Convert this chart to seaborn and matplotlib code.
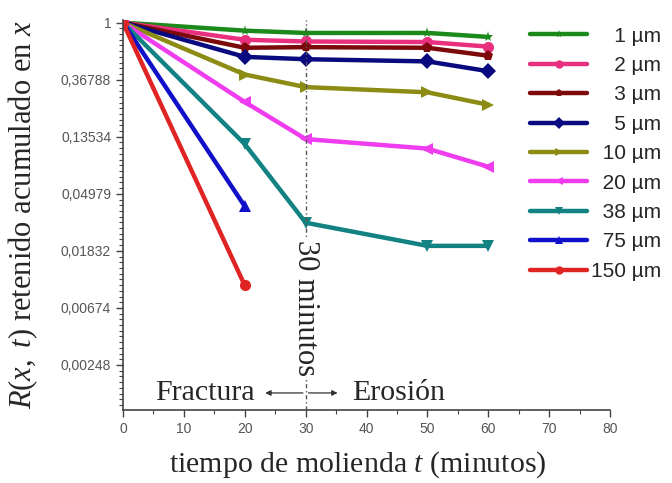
import matplotlib
matplotlib.use("Agg")
import matplotlib.pyplot as plt
import numpy as np
import pandas as pd
import seaborn as sns
from matplotlib.ticker import FixedLocator, FixedFormatter, MultipleLocator

# Data (R(x, t) vs grinding time)
sizes = ["1 µm", "2 µm", "3 µm", "5 µm", "10 µm", "20 µm", "38 µm", "75 µm", "150 µm"]
t_full = [0, 20, 30, 50, 60]
t_short = [0, 20]
r_1 = [1.0, 0.869, 0.835, 0.835, 0.779]
r_2 = [1.0, 0.741, 0.719, 0.712, 0.657]
r_3 = [1.0, 0.644, 0.651, 0.644, 0.560]
r_5 = [1.0, 0.549, 0.527, 0.507, 0.427]
r_10 = [1.0, 0.403, 0.323, 0.295, 0.237]
r_20 = [1.0, 0.249, 0.130, 0.110, 0.080]
r_38 = [1.0, 0.119, 0.030, 0.020, 0.020]
r_75 = [1.0, 0.040]
r_150 = [1.0, 0.010]

colors = ["#1b8a1b", "#e8307f", "#7c0a0a", "#0a0a80", "#8c8c14",
          "#ee3cee", "#128282", "#1010c8", "#e02424"]
markers = ["*", "o", "p", "D", ">", "<", "v", "^", "o"]

ytick_vals = [1, 0.36788, 0.13534, 0.04979, 0.01832, 0.00674, 0.00248]
ytick_labels = ["1", "0,36788", "0,13534", "0,04979", "0,01832",
                "0,00674", "0,00248"]

series = [r_1, r_2, r_3, r_5, r_10, r_20, r_38, r_75, r_150]
rows = []
for name, vals in zip(sizes, series):
    ts = t_full if len(vals) == len(t_full) else t_short
    for t, r in zip(ts, vals):
        rows.append({"t": t, "R": r, "size": name})
df = pd.DataFrame(rows)

sns.set_style("ticks")
plt.rcParams["font.family"] = ["Liberation Sans", "DejaVu Sans"]
plt.rcParams["mathtext.fontset"] = "custom"
plt.rcParams["mathtext.rm"] = "Liberation Serif"
plt.rcParams["mathtext.it"] = "Liberation Serif:italic"

fig = plt.figure(figsize=(6.72, 4.83), dpi=100)
ax = fig.add_axes([0.183, 0.151, 0.725, 0.808])

sns.lineplot(
    data=df, x="t", y="R", hue="size", style="size",
    hue_order=sizes, style_order=sizes,
    palette=dict(zip(sizes, colors)), markers=dict(zip(sizes, markers)),
    dashes=False, linewidth=3.2, markersize=8, markeredgewidth=0,
    ax=ax, legend=True,
)

ax.set_yscale("log", base=np.e)
ax.set_xlim(0, 80)
ax.set_ylim(np.exp(-6.79), np.exp(0.05))

ax.yaxis.set_major_locator(FixedLocator(ytick_vals))
ax.yaxis.set_major_formatter(FixedFormatter(ytick_labels))
ax.yaxis.set_minor_locator(FixedLocator(np.exp(-np.arange(0, 68) / 10)))
ax.yaxis.set_minor_formatter(FixedFormatter([]))
ax.xaxis.set_major_locator(MultipleLocator(10))
ax.xaxis.set_minor_locator(MultipleLocator(5))

ax.tick_params(which="major", length=5, width=1, colors="#444444",
               labelsize=10, labelcolor="#555555")
ax.tick_params(which="minor", length=3, width=0.8, colors="#444444")
for s in ["top", "right"]:
    ax.spines[s].set_visible(False)
for s in ["left", "bottom"]:
    ax.spines[s].set_color("#444444")
    ax.spines[s].set_linewidth(1.2)

ax.set_xlabel(r"tiempo de molienda $t$ (minutos)", family="Liberation Serif",
              fontsize=21.5, labelpad=10)
ax.xaxis.label.set_x(0.482)
ax.set_ylabel(r"$R(x,\ t)$ retenido acumulado en $x$",
              family="Liberation Serif", fontsize=22)
ax.yaxis.set_label_coords(-0.17, 0.5)

# 30 minute marker
ax.axvline(30, color="#555555", linestyle=(0, (3, 2, 1, 2)), linewidth=1)
ax.text(30, np.exp(-5.0), "30 minutos", rotation=270, ha="center",
        va="center", family="Liberation Serif", fontsize=22,
        bbox=dict(facecolor="white", edgecolor="none", pad=0.5))
y_arrow = np.exp(-6.49)
ax.annotate("", xy=(22.9, y_arrow), xytext=(30, y_arrow),
            arrowprops=dict(arrowstyle="-|>", color="#333333", lw=0.9,
                            mutation_scale=8))
ax.annotate("", xy=(35.7, y_arrow), xytext=(30, y_arrow),
            arrowprops=dict(arrowstyle="-|>", color="#333333", lw=0.9,
                            mutation_scale=8))
ax.text(21.7, y_arrow, "Fractura", ha="right", va="center",
        family="Liberation Serif", fontsize=21.5)
ax.text(37.7, y_arrow, "Erosión", ha="left", va="center",
        family="Liberation Serif", fontsize=21.5)

handles, labels = ax.get_legend_handles_labels()
ax.legend_.remove()
width = max(len(s) for s in labels)
padded = [s.rjust(width, "\u2007") for s in labels]
leg = fig.legend(handles, padded, loc="upper left",
                 bbox_to_anchor=(0.789, 0.945), frameon=False, fontsize=15,
                 handlelength=2.75, handletextpad=0.15, labelspacing=0.5,
                 borderpad=0, borderaxespad=0)
for h in leg.legend_handles:
    h.set_markersize(6)

fig.savefig("out.png", dpi=100)
